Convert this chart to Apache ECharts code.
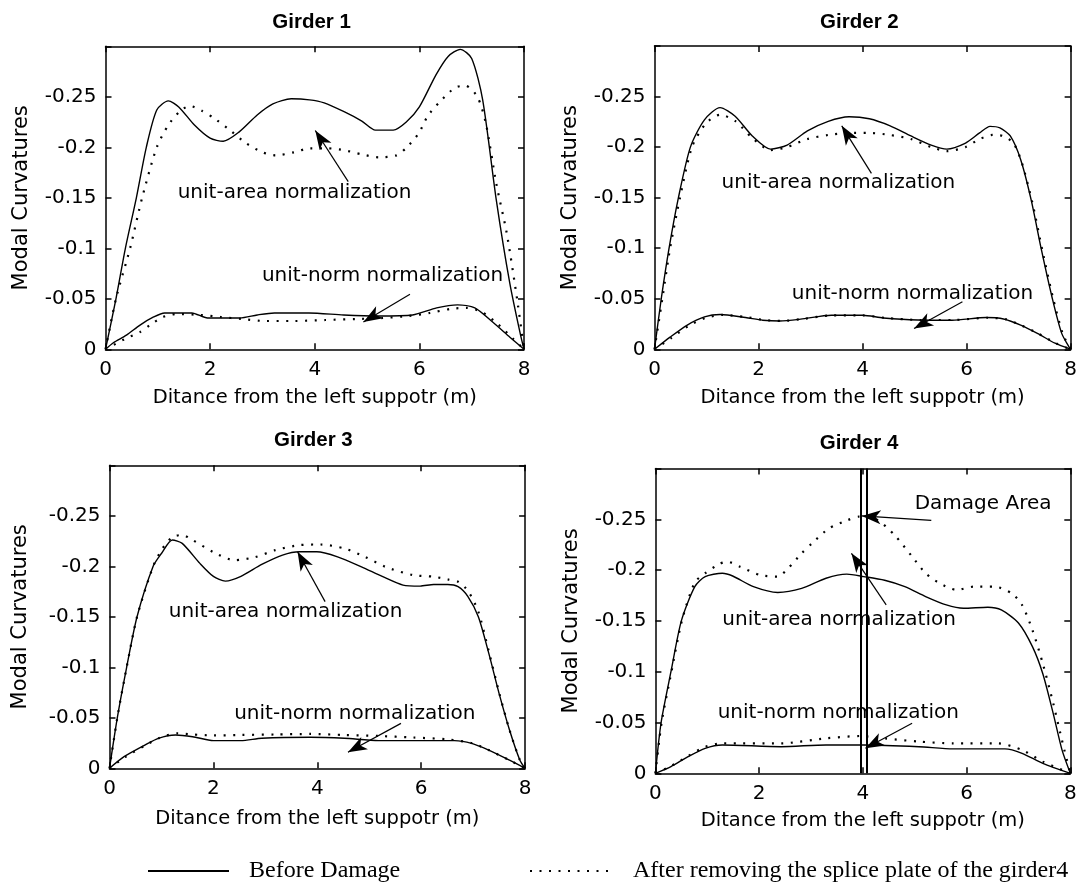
<!DOCTYPE html>
<html><head><meta charset="utf-8">
<script src="https://cdn.jsdelivr.net/npm/echarts@6/dist/echarts.min.js"></script>
<style>html,body{margin:0;padding:0;background:#fff}#c{width:1080px;height:883px}</style>
</head><body><div id="c"></div>
<script>
// ---------- text & ticks ----------
const panelTitles = ['Girder 1', 'Girder 2', 'Girder 3', 'Girder 4'];
const xName = 'Ditance from the left suppotr (m)';
const yName = 'Modal Curvatures';
const legendNames = ['Before Damage', 'After removing the splice plate of the girder4'];
const xTickMin = 0, xTickMax = 8, xTickStep = 2;
const yTickMin = -0.3, yTickMax = 0, yTickStep = 0.05;

// ---------- Girder 1 ----------
const g1AreaBefore = [[0,0],[0.2,-0.05],[0.38,-0.1],[0.59,-0.15],[0.78,-0.2],[0.98,-0.237],[1.2,-0.246],[1.4,-0.24],[1.7,-0.222],[2.0,-0.209],[2.25,-0.206],[2.55,-0.215],[2.9,-0.232],[3.2,-0.243],[3.55,-0.248],[3.9,-0.247],[4.18,-0.244],[4.57,-0.235],[4.9,-0.226],[5.16,-0.217],[5.5,-0.217],[5.75,-0.225],[6.0,-0.24],[6.32,-0.272],[6.55,-0.29],[6.78,-0.297],[7.0,-0.288],[7.21,-0.247],[7.47,-0.148],[7.73,-0.065],[7.93,-0.015],[8,0]];
const g1AreaAfter = [[0,0],[0.2,-0.05],[0.47,-0.1],[0.7,-0.15],[0.98,-0.2],[1.2,-0.222],[1.43,-0.236],[1.61,-0.241],[1.85,-0.236],[2.07,-0.229],[2.33,-0.219],[2.69,-0.204],[3.0,-0.195],[3.25,-0.192],[3.6,-0.195],[3.91,-0.199],[4.25,-0.199],[4.57,-0.197],[4.9,-0.193],[5.23,-0.19],[5.56,-0.192],[5.76,-0.2],[5.99,-0.214],[6.16,-0.231],[6.39,-0.245],[6.68,-0.259],[6.88,-0.261],[7.11,-0.25],[7.27,-0.224],[7.47,-0.164],[7.67,-0.115],[7.87,-0.049],[8,0]];
const g1NormBefore = [[0,0],[0.15,-0.0065],[0.4,-0.014],[0.66,-0.024],[0.92,-0.032],[1.13,-0.036],[1.65,-0.036],[1.95,-0.031],[2.57,-0.031],[2.9,-0.034],[3.23,-0.036],[3.89,-0.036],[4.55,-0.034],[5.21,-0.033],[5.87,-0.034],[6.33,-0.041],[6.73,-0.044],[7.06,-0.041],[7.4,-0.027],[7.73,-0.012],[8,0]];
const g1NormAfter = [[0,0],[0.4,-0.011],[0.66,-0.017],[0.85,-0.024],[1.1,-0.032],[1.36,-0.035],[1.81,-0.034],[2.2,-0.032],[2.6,-0.03],[3.06,-0.028],[3.6,-0.028],[4.2,-0.029],[4.8,-0.03],[5.3,-0.031],[5.8,-0.033],[6.2,-0.036],[6.6,-0.04],[6.9,-0.041],[7.19,-0.037],[7.5,-0.025],[7.8,-0.01],[8,0]];
const g1Notes = [['unit-area normalization', 1.38, -0.155], ['unit-norm normalization', 2.99, -0.0724]];
const g1Arrows = [[4.64, -0.166, 4.01, -0.2166], [5.82, -0.0546, 4.93, -0.0271]];

// ---------- Girder 2 ----------
const g2AreaBefore = [[0,0],[0.13,-0.05],[0.28,-0.1],[0.46,-0.15],[0.69,-0.2],[0.96,-0.227],[1.26,-0.239],[1.55,-0.2305],[1.88,-0.211],[2.23,-0.198],[2.55,-0.202],[2.94,-0.216],[3.34,-0.2255],[3.74,-0.23],[4.13,-0.228],[4.53,-0.221],[4.93,-0.211],[5.32,-0.202],[5.62,-0.198],[5.98,-0.204],[6.25,-0.214],[6.45,-0.2205],[6.64,-0.219],[6.84,-0.211],[7.04,-0.1875],[7.24,-0.148],[7.44,-0.098],[7.64,-0.052],[7.83,-0.0155],[8,0]];
const g2AreaAfter = [[0,0],[0.15,-0.05],[0.3,-0.1],[0.49,-0.15],[0.72,-0.2],[0.98,-0.223],[1.26,-0.232],[1.55,-0.226],[1.88,-0.209],[2.23,-0.197],[2.55,-0.2],[2.94,-0.208],[3.34,-0.212],[3.74,-0.214],[4.13,-0.214],[4.53,-0.212],[4.93,-0.208],[5.32,-0.2],[5.62,-0.196],[5.98,-0.2],[6.25,-0.208],[6.5,-0.212],[6.7,-0.211],[6.9,-0.204],[7.06,-0.185],[7.26,-0.146],[7.46,-0.097],[7.66,-0.051],[7.85,-0.015],[8,0]];
const g2NormBefore = [[0,0],[0.3,-0.012],[0.63,-0.024],[0.96,-0.032],[1.26,-0.0344],[1.75,-0.0314],[2.08,-0.0288],[2.41,-0.028],[2.81,-0.0298],[3.4,-0.0337],[4.0,-0.0337],[4.4,-0.031],[5.06,-0.029],[5.72,-0.0288],[6.38,-0.0314],[6.71,-0.03],[7.04,-0.024],[7.37,-0.0155],[7.7,-0.006],[8,0]];
const g2NormAfter = [[0,0],[0.32,-0.011],[0.65,-0.023],[0.98,-0.031],[1.3,-0.034],[1.75,-0.032],[2.1,-0.029],[2.45,-0.028],[2.85,-0.03],[3.4,-0.0335],[4.0,-0.0335],[4.45,-0.031],[5.1,-0.029],[5.75,-0.029],[6.4,-0.0312],[6.75,-0.0298],[7.06,-0.0235],[7.4,-0.015],[7.72,-0.0058],[8,0]];
const g2Notes = [['unit-area normalization', 1.29, -0.165], ['unit-norm normalization', 2.64, -0.0552]];
const g2Arrows = [[4.17, -0.174, 3.6, -0.221], [5.92, -0.047, 4.99, -0.0205]];

// ---------- Girder 3 ----------
const g3AreaBefore = [[0,0],[0.15,-0.05],[0.33,-0.1],[0.53,-0.15],[0.84,-0.2],[1.0,-0.2127],[1.21,-0.226],[1.4,-0.2227],[1.74,-0.2029],[2.0,-0.19],[2.23,-0.1853],[2.53,-0.19],[2.93,-0.2018],[3.33,-0.2111],[3.66,-0.2144],[3.99,-0.2144],[4.39,-0.2094],[4.85,-0.1995],[5.25,-0.19],[5.65,-0.1814],[5.98,-0.1804],[6.24,-0.182],[6.51,-0.182],[6.71,-0.1798],[6.9,-0.17],[7.1,-0.15],[7.3,-0.114],[7.5,-0.074],[7.7,-0.038],[7.9,-0.008],[8,0]];
const g3AreaAfter = [[0,0],[0.15,-0.05],[0.33,-0.1],[0.53,-0.15],[0.84,-0.2],[1.0,-0.216],[1.21,-0.229],[1.4,-0.231],[1.6,-0.226],[2.0,-0.214],[2.4,-0.206],[2.8,-0.209],[3.19,-0.216],[3.66,-0.221],[4.06,-0.2216],[4.52,-0.2177],[4.92,-0.2094],[5.31,-0.1995],[5.84,-0.1913],[6.24,-0.1897],[6.51,-0.187],[6.71,-0.1847],[6.9,-0.1758],[7.1,-0.155],[7.3,-0.116],[7.5,-0.075],[7.7,-0.038],[7.9,-0.008],[8,0]];
const g3NormBefore = [[0,0],[0.28,-0.0115],[0.68,-0.023],[0.94,-0.0297],[1.27,-0.033],[1.6,-0.0313],[2.0,-0.0274],[2.53,-0.0274],[2.93,-0.0297],[3.86,-0.0307],[4.52,-0.0297],[5.18,-0.0274],[5.84,-0.0274],[6.64,-0.0274],[6.97,-0.0247],[7.3,-0.018],[7.7,-0.008],[8,0]];
const g3NormAfter = [[0,0],[0.3,-0.011],[0.7,-0.023],[0.96,-0.03],[1.3,-0.0346],[1.6,-0.0335],[2.0,-0.0325],[2.53,-0.033],[3.2,-0.0335],[3.86,-0.034],[4.52,-0.033],[5.18,-0.032],[5.84,-0.0305],[6.5,-0.0287],[6.97,-0.025],[7.3,-0.018],[7.7,-0.008],[8,0]];
const g3Notes = [['unit-area normalization', 1.14, -0.155], ['unit-norm normalization', 2.4, -0.0538]];
const g3Arrows = [[4.15, -0.165, 3.62, -0.2144], [5.61, -0.0445, 4.59, -0.0158]];

// ---------- Girder 4 ----------
const g4AreaBefore = [[0,0],[0.11,-0.05],[0.3,-0.1],[0.5,-0.15],[0.76,-0.1837],[0.96,-0.1936],[1.29,-0.1969],[1.49,-0.1942],[1.89,-0.1837],[2.36,-0.178],[2.82,-0.182],[3.29,-0.192],[3.69,-0.196],[4.02,-0.1936],[4.42,-0.19],[4.81,-0.1837],[5.21,-0.174],[5.61,-0.1657],[5.94,-0.1624],[6.41,-0.1634],[6.67,-0.1608],[7.0,-0.148],[7.27,-0.1247],[7.47,-0.098],[7.67,-0.059],[7.84,-0.023],[8,0]];
const g4AreaAfter = [[0,0],[0.12,-0.05],[0.31,-0.1],[0.51,-0.15],[0.76,-0.188],[0.96,-0.1969],[1.23,-0.206],[1.39,-0.2083],[1.63,-0.2034],[2.03,-0.195],[2.36,-0.1936],[2.56,-0.2018],[2.82,-0.2165],[3.02,-0.2264],[3.35,-0.2411],[3.7,-0.249],[3.92,-0.2526],[4.28,-0.2493],[4.61,-0.2346],[4.95,-0.2133],[5.21,-0.1969],[5.48,-0.187],[5.81,-0.1805],[6.14,-0.1837],[6.54,-0.1837],[6.87,-0.1772],[7.07,-0.1657],[7.27,-0.141],[7.47,-0.108],[7.67,-0.069],[7.87,-0.026],[8,0]];
const g4NormBefore = [[0,0],[0.3,-0.0066],[0.63,-0.0164],[0.96,-0.0246],[1.29,-0.0279],[2.42,-0.0262],[3.29,-0.0279],[4.02,-0.0279],[5.08,-0.0262],[5.74,-0.024],[6.74,-0.024],[7.07,-0.0197],[7.47,-0.0098],[8,0]];
const g4NormAfter = [[0,0],[0.3,-0.007],[0.63,-0.017],[0.96,-0.026],[1.29,-0.0295],[2.42,-0.0295],[3.29,-0.0344],[3.95,-0.0367],[4.42,-0.0344],[5.08,-0.0312],[5.74,-0.0295],[6.6,-0.0295],[7.07,-0.023],[7.47,-0.0115],[8,0]];
const g4Notes = [['Damage Area', 5.0, -0.2657], ['unit-area normalization', 1.29, -0.151], ['unit-norm normalization', 1.2, -0.0597]];
const g4Arrows = [[5.32, -0.249, 3.98, -0.2533], [4.45, -0.1657, 3.78, -0.2165], [4.95, -0.0492, 4.05, -0.0246]];
const g4DamageLines = [3.95, 4.07];

// ---------- assemble ----------
const panels = [
  {area: [g1AreaBefore, g1AreaAfter], norm: [g1NormBefore, g1NormAfter], notes: g1Notes, arrows: g1Arrows, damage: []},
  {area: [g2AreaBefore, g2AreaAfter], norm: [g2NormBefore, g2NormAfter], notes: g2Notes, arrows: g2Arrows, damage: []},
  {area: [g3AreaBefore, g3AreaAfter], norm: [g3NormBefore, g3NormAfter], notes: g3Notes, arrows: g3Arrows, damage: []},
  {area: [g4AreaBefore, g4AreaAfter], norm: [g4NormBefore, g4NormAfter], notes: g4Notes, arrows: g4Arrows, damage: g4DamageLines}
];

const layout = {
  grids: [
    {left: 105.5, top: 46.3, width: 418.5, height: 303},
    {left: 654.5, top: 46, width: 417.8, height: 303.3},
    {left: 109.5, top: 465.3, width: 415.6, height: 303},
    {left: 655.4, top: 468.5, width: 414.9, height: 304.8}
  ],
  titles: [[311.6, 22], [859.4, 22], [313.4, 440.5], [859, 443.5]],
  yNameGap: [73, 73, 78, 73],
  xNameGap: [39, 39, 41, 38]
};

const black = '#000';
const sans = 'DejaVu Sans';
const axLine = {show: true, onZero: false, lineStyle: {color: black, width: 1.5}};
const axTick = {show: true, inside: true, length: 6, lineStyle: {color: black, width: 1.5}};
const arrowHead = 'path://M0,0L7,19L0,14L-7,19ZM0,-19';

function fmtY(v) {
  if (v <= yTickMin + 1e-9) return '';
  const r = parseFloat(v.toFixed(2));
  return r === 0 ? '0' : String(r);
}

const xAxes = [], yAxes = [], series = [], graphics = [];
panels.forEach((p, i) => {
  xAxes.push({type: 'value', gridIndex: i, position: 'bottom', min: xTickMin, max: xTickMax, interval: xTickStep,
    axisLine: axLine, axisTick: axTick, splitLine: {show: false},
    axisLabel: {margin: 10, color: black, fontFamily: sans, fontSize: 20},
    name: xName, nameLocation: 'middle', nameGap: layout.xNameGap[i],
    nameTextStyle: {color: black, fontFamily: sans, fontSize: 19.5}});
  xAxes.push({type: 'value', gridIndex: i, position: 'top', min: xTickMin, max: xTickMax, interval: xTickStep,
    axisLine: axLine, axisTick: axTick, splitLine: {show: false}, axisLabel: {show: false}});
  yAxes.push({type: 'value', gridIndex: i, position: 'left', inverse: true, min: yTickMin, max: yTickMax, interval: yTickStep,
    axisLine: axLine, axisTick: axTick, splitLine: {show: false},
    axisLabel: {margin: 9, color: black, fontFamily: sans, fontSize: 20, formatter: fmtY},
    name: yName, nameLocation: 'middle', nameGap: layout.yNameGap[i],
    nameTextStyle: {color: black, fontFamily: sans, fontSize: 21}});
  yAxes.push({type: 'value', gridIndex: i, position: 'right', inverse: true, min: yTickMin, max: yTickMax, interval: yTickStep,
    axisLine: axLine, axisTick: axTick, splitLine: {show: false}, axisLabel: {show: false}});

  const solid = {color: black, width: 1.4, type: 'solid'};
  const dotted = {color: black, width: 2.2, type: [2, 7.5]};
  const base = {type: 'line', xAxisIndex: 2 * i, yAxisIndex: 2 * i, symbol: 'none', showSymbol: false,
    smooth: 0.25, animation: false, silent: true, itemStyle: {color: black}};

  const markLineData = p.arrows.map(a => [
    {coord: [a[0], a[1]], symbol: 'none'},
    {coord: [a[2], a[3]], symbol: arrowHead, symbolSize: [14, 38]}
  ]);
  p.damage.forEach(x => markLineData.push([
    {coord: [x, yTickMin], symbol: 'none', lineStyle: {width: 2}},
    {coord: [x, yTickMax], symbol: 'none', lineStyle: {width: 2}}
  ]));

  series.push(Object.assign({}, base, {name: legendNames[0], data: p.area[0], lineStyle: solid, z: 3,
    markLine: {silent: true, animation: false, symbol: ['none', 'none'], label: {show: false},
      lineStyle: {color: black, width: 1.2, type: 'solid'}, emphasis: {disabled: true}, data: markLineData},
    markPoint: {silent: true, animation: false, symbol: 'circle', symbolSize: 0,
      itemStyle: {color: 'rgba(0,0,0,0)'},
      label: {show: true, position: 'right', distance: 0, color: black, fontFamily: sans, fontSize: 20},
      data: p.notes.map(n => ({name: n[0], coord: [n[1], n[2]], label: {formatter: n[0]}}))}
  }));
  series.push(Object.assign({}, base, {name: legendNames[1], data: p.area[1], lineStyle: dotted}));
  series.push(Object.assign({}, base, {name: legendNames[0], data: p.norm[0], lineStyle: solid}));
  series.push(Object.assign({}, base, {name: legendNames[1], data: p.norm[1], lineStyle: dotted}));

  graphics.push({type: 'text', x: layout.titles[i][0], y: layout.titles[i][1], silent: true,
    style: {text: panelTitles[i], fill: black, font: 'bold 20.5px "Liberation Sans", Arial, sans-serif',
      align: 'center', verticalAlign: 'middle', textAlign: 'center', textVerticalAlign: 'middle'}});
});

const legendText = {fontFamily: 'Liberation Serif', fontSize: 24, color: black, padding: [0, 0, 8, 15]};
const legendBase = {itemHeight: 14, padding: 0, selectedMode: false, textStyle: legendText,
  itemStyle: {opacity: 0, borderWidth: 0}, lineStyle: {width: 2}};
const option = {
  backgroundColor: '#fff',
  animation: false,
  grid: layout.grids.map(g => Object.assign({containLabel: false}, g)),
  xAxis: xAxes,
  yAxis: yAxes,
  series: series,
  graphic: graphics,
  legend: [
    Object.assign({data: [legendNames[0]], left: 147, top: 859, itemWidth: 81}, legendBase),
    Object.assign({data: [legendNames[1]], left: 529, top: 859, itemWidth: 83}, legendBase)
  ]
};
const chart = echarts.init(document.getElementById('c'), null, {renderer: 'canvas'});
chart.setOption(option);
</script></body></html>
